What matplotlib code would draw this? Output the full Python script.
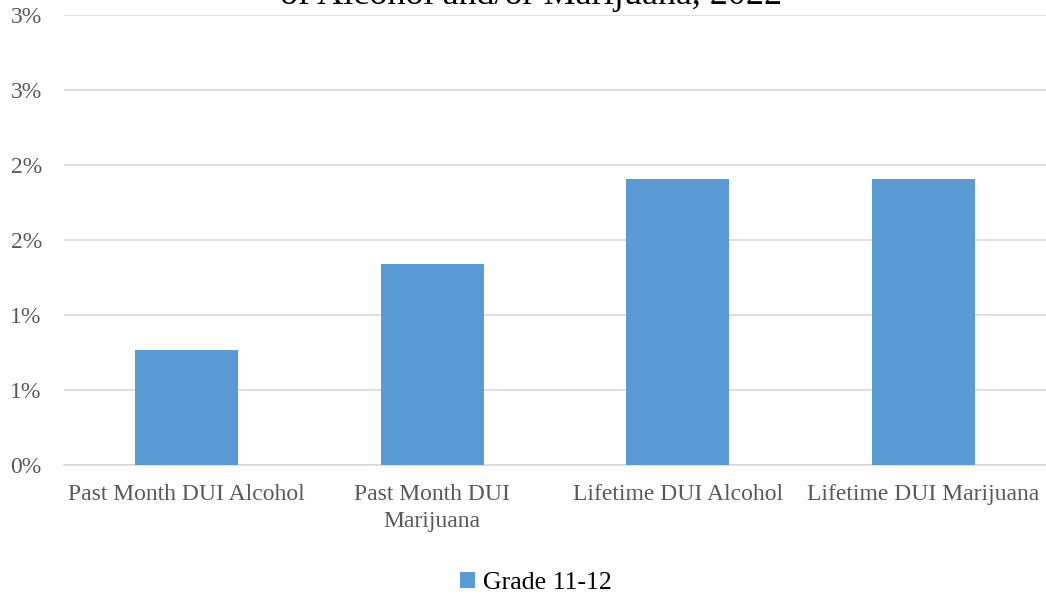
import math
import matplotlib
matplotlib.use('Agg')
import matplotlib.pyplot as plt
from matplotlib.ticker import FuncFormatter, MultipleLocator

plt.rcParams['font.family'] = ['Liberation Serif', 'DejaVu Serif']

# Daten
categories = ['Past Month DUI Alcohol', 'Past Month DUI\nMarijuana',
              'Lifetime DUI Alcohol', 'Lifetime DUI Marijuana']
values = [0.77, 1.34, 1.91, 1.91]
series_name = 'Grade 11-12'
title = 'of Alcohol and/or Marijuana, 2022'

fig = plt.figure(figsize=(10.46, 5.97), dpi=100)
ax = fig.add_axes([64 / 1046, 132 / 597, 982 / 1046, 450 / 597])

x = range(len(categories))
ax.bar(x, values, width=0.42, color='#5B9BD5', label=series_name, zorder=3)

ax.set_xlim(-0.5, len(categories) - 0.5)
ax.set_ylim(0, 3)
ax.yaxis.set_major_locator(MultipleLocator(0.5))
# Excel-Format "0%" rundet 0.5 auf 1
ax.yaxis.set_major_formatter(FuncFormatter(lambda v, p: f'{int(math.floor(v + 0.5))}%'))
ax.grid(axis='y', color='#D9D9D9', linewidth=1.2, zorder=0)

ax.set_xticks(list(x))
ax.set_xticklabels(categories, fontsize=17, color='#595959', linespacing=1.35)
ax.tick_params(axis='y', labelsize=17, labelcolor='#595959', length=0, pad=16)
ax.tick_params(axis='x', length=0, pad=14)

for s in ['top', 'right', 'left']:
    ax.spines[s].set_visible(False)
ax.spines['bottom'].set_color('#D9D9D9')
ax.spines['bottom'].set_linewidth(1.2)

# Titel ist oben abgeschnitten (wie im Original)
fig.text(0.508, 1.0 - 4 / 597, title, ha='center', va='baseline', fontsize=26, color='black')

fig.legend(loc='center', bbox_to_anchor=(0.512, 1 - 583 / 597), frameon=False,
           fontsize=18.5, handlelength=0.6, handleheight=0.6, handletextpad=0.3)

plt.savefig('out.png', dpi=100)
